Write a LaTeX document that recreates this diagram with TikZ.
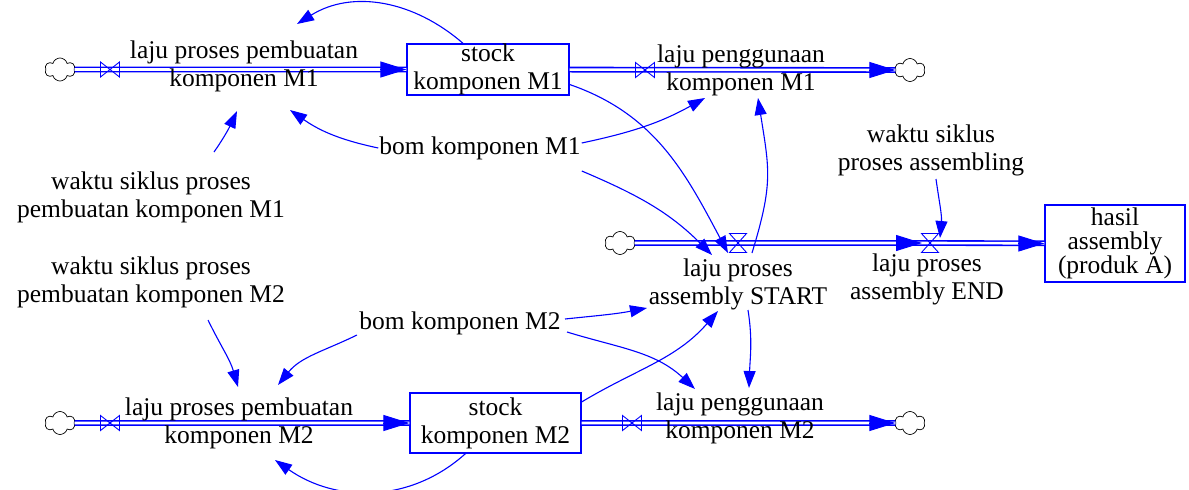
\documentclass[tikz,border=0pt]{standalone}
\usepackage{fontspec}
\setmainfont{Liberation Serif}
\usetikzlibrary{arrows.meta,shapes.symbols}
\definecolor{vblue}{RGB}{0,0,255}

\tikzset{
  lbl/.style={align=center, inner sep=1pt, font=\fontsize{25.5}{28}\selectfont},
  stockbox/.style={draw=vblue, line width=1.2pt, align=center, inner sep=0pt, font=\fontsize{25.5}{28}\selectfont},
  srcsink/.style={cloud, draw=black, line width=0.7pt, cloud puffs=6, aspect=1.3, inner sep=0pt, minimum width=30pt, minimum height=23pt},
  pipe/.style={draw=vblue, line width=1.6pt, double=white, double distance=2.6pt},
  pipehead/.style={vblue, line width=1pt, -{Triangle[length=26pt,width=16pt]}},
  link/.style={vblue, line width=1.1pt, -{Triangle[length=17pt,width=12pt]}},
  bowtie/.pic={\draw[vblue, line width=0.9pt] (-9.5,7.5) -- (9.5,-7.5) -- (9.5,7.5) -- (-9.5,-7.5) -- cycle;},
  hourglass/.pic={\draw[vblue, line width=0.9pt] (-8.5,9.5) -- (8.5,9.5) -- (-8.5,-9.5) -- (8.5,-9.5) -- cycle;},
}

\begin{document}
\begin{tikzpicture}[x=1pt, y=1pt]
\useasboundingbox (0,0) rectangle (1189,-490);

% komponen M1 chain
\node[srcsink] (cloudA1) at (60,-69.5) {};
\node[stockbox, minimum width=162pt, minimum height=51pt] (stockA) at (488,-69.5) {stock\\komponen M1};
\node[srcsink] (cloudA2) at (910,-70) {};
\coordinate (vA1) at (110,-69.5);
\coordinate (vA2) at (645,-70);
\draw[pipe] (cloudA1) -- (stockA);
\draw[pipehead] ([xshift=-26]stockA.west) -- (stockA.west);
\draw[pipe] (stockA) -- (cloudA2);
\draw[pipehead] ([xshift=-26]cloudA2.west) -- (cloudA2.west);
\pic at (vA1) {bowtie};
\pic at (vA2) {bowtie};
\node[lbl] (rateA1) at (244,-66) {laju proses pembuatan\\komponen M1};
\node[lbl] (rateA2) at (741,-70) {laju penggunaan\\komponen M1};

% assembly chain
\node[srcsink] (cloudS) at (620,-243) {};
\coordinate (vS) at (738,-243);
\coordinate (vE) at (930,-243);
\node[stockbox, minimum width=140pt, minimum height=77pt, font=\fontsize{25.5}{24}\selectfont] (hasil) at (1115,-243.5) {hasil\\assembly\\(produk A)};
\draw[pipe] (cloudS) -- (vE);
\draw[pipehead] ([xshift=-34]vE) -- ([xshift=-8]vE);
\draw[pipe] (vE) -- (hasil);
\draw[pipehead] ([xshift=-26]hasil.west) -- (hasil.west);
\pic at (vS) {hourglass};
\pic at (vE) {hourglass};
\node[lbl] (rateS) at (738,-284) {laju proses\\assembly START};
\node[lbl] (rateE) at (927,-279) {laju proses\\assembly END};

% komponen M2 chain
\node[srcsink] (cloudB1) at (60,-423) {};
\node[stockbox, minimum width=171pt, minimum height=60pt] (stockB) at (495.5,-423) {stock\\komponen M2};
\node[srcsink] (cloudB2) at (910,-423) {};
\coordinate (vB1) at (110,-423);
\coordinate (vB2) at (632,-423);
\draw[pipe] (cloudB1) -- (stockB);
\draw[pipehead] ([xshift=-26]stockB.west) -- (stockB.west);
\draw[pipe] (stockB) -- (cloudB2);
\draw[pipehead] ([xshift=-26]cloudB2.west) -- (cloudB2.west);
\pic at (vB1) {bowtie};
\pic at (vB2) {bowtie};
\node[lbl] (rateB1) at (239,-423) {laju proses pembuatan\\komponen M2};
\node[lbl] (rateB2) at (740,-418) {laju penggunaan\\komponen M2};

% auxiliaries
\node[lbl] (bomA) at (480,-148) {bom komponen M1};
\node[lbl] (waktuA) at (151,-197) {waktu siklus proses\\pembuatan komponen M1};
\node[lbl] (waktuAsm) at (931,-150) {waktu siklus\\proses assembling};
\node[lbl] (waktuB) at (151,-282) {waktu siklus proses\\pembuatan komponen M2};
\node[lbl] (bomB) at (460,-323) {bom komponen M2};

% links
\draw[link] ([xshift=-25]stockA.north) to[out=139, in=32] ([shift={(53,42)}]rateA1.center);
\draw[link] (bomA.west) to[out=168, in=-35] ([shift={(46,-44)}]rateA1.center);
\draw[link] ([yshift=5]bomA.east) to[out=12, in=-151] ([shift={(-36,-28)}]rateA2.center);
\draw[link] ([yshift=-23]bomA.east) to[out=-23, in=135] ([shift={(-26,-12)}]vS);
\draw[link] ([yshift=-15]stockA.east) to[out=-19, in=118] ([shift={(-10,-10)}]vS);
\draw[link] ([shift={(14,-10)}]vS) to[out=73, in=-81, looseness=1.2] ([shift={(17,-28)}]rateA2.center);
\draw[link] ([shift={(63,45)}]waktuA.center) to[out=55, in=-115] ([shift={(-7,-45)}]rateA1.center);
\draw[link] ([shift={(5,-29)}]waktuAsm.center) to[out=-82, in=85] ([shift={(10,5)}]vE);
\draw[link] ([shift={(57,-38)}]waktuB.center) to[out=-64, in=106] ([shift={(-1,36)}]rateB1.center);
\draw[link] ([shift={(-103,-12)}]bomB.center) to[out=206, in=51] ([shift={(39,38)}]rateB1.center);
\draw[link] ([shift={(105,4)}]bomB.center) to[out=6, in=191] ([shift={(-91,-24)}]rateS.center);
\draw[link] ([shift={(107,-9)}]bomB.center) to[out=-17, in=137] ([shift={(-45,29)}]rateB2.center);
\draw[link] ([yshift=21]stockB.east) to[out=31, in=-131] ([shift={(-20,-27)}]rateS.center);
\draw[link] ([shift={(10,-26)}]rateS.center) to[out=-81, in=88] ([shift={(9,30)}]rateB2.center);
\draw[link] ([xshift=-30]stockB.south) to[out=222, in=-35] ([shift={(36,-37)}]rateB1.center);
\end{tikzpicture}
\end{document}
